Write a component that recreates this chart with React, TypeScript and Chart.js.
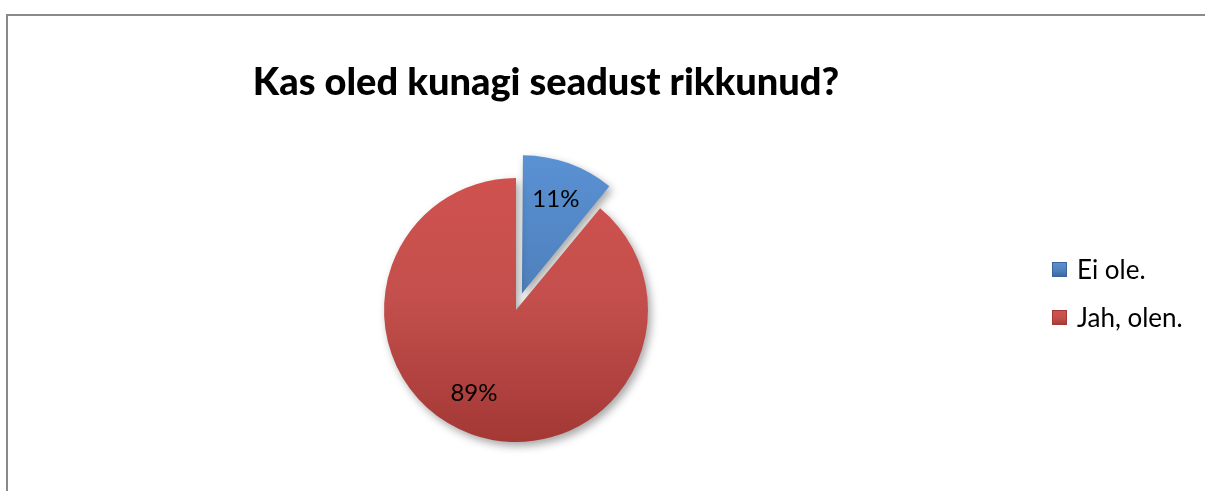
import React, { useEffect, useRef } from "react";
import { Chart, registerables } from "chart.js";

Chart.register(...registerables);

const titleText = "Kas oled kunagi seadust rikkunud?";
const categories = ["Ei ole.", "Jah, olen."];
const shares = [11, 89];
const sliceOffsets = [70, 0];
const topColors = ["#5B93D6", "#D2524F"];
const baseColors = ["#4F81BD", "#C34F4C"];
const bottomColors = ["#3A659C", "#A33835"];

const FONT = "Lato, 'Noto Sans', sans-serif";
const PIE_RADIUS = 132;

function sliceFill(ctx: any) {
  const chart = ctx.chart;
  const i = ctx.dataIndex;
  const ca = chart.chartArea;
  if (!ca) return baseColors[i];
  const cy = (ca.top + ca.bottom) / 2;
  const c = chart.ctx as CanvasRenderingContext2D;
  const g = c.createLinearGradient(0, cy - PIE_RADIUS - 20, 0, cy + PIE_RADIUS);
  g.addColorStop(0, topColors[i]);
  g.addColorStop(0.5, baseColors[i]);
  g.addColorStop(1, bottomColors[i]);
  return g;
}

const shadowPlugin = {
  id: "pieShadow",
  beforeDatasetsDraw(chart: any) {
    const c = chart.ctx;
    c.save();
    c.shadowColor = "rgba(0,0,0,0.35)";
    c.shadowBlur = 9;
    c.shadowOffsetX = 3;
    c.shadowOffsetY = 4;
  },
  afterDatasetsDraw(chart: any) {
    chart.ctx.restore();
  },
};

const labelPlugin = {
  id: "pieLabels",
  afterDatasetsDraw(chart: any) {
    const c = chart.ctx as CanvasRenderingContext2D;
    const meta = chart.getDatasetMeta(0);
    c.save();
    c.font = `24px ${FONT}`;
    c.fillStyle = "#000";
    c.textAlign = "center";
    c.textBaseline = "middle";
    meta.data.forEach((arc: any, i: number) => {
      const mid = (arc.startAngle + arc.endAngle) / 2 + (i === 1 ? 0.12 : 0);
      const circ = arc.endAngle - arc.startAngle;
      const off = (arc.options.offset || 0) / 4;
      const fix = 1 - Math.sin(Math.min(Math.PI, circ));
      const shift = off + off * fix;
      const rr = arc.outerRadius * 0.71;
      const x = arc.x + Math.cos(mid) * (shift + rr);
      const y = arc.y + Math.sin(mid) * (shift + rr);
      c.fillText(`${shares[i]}%`, x, y);
    });
    c.restore();
  },
};

export default function App() {
  const ref = useRef<HTMLCanvasElement>(null);
  useEffect(() => {
    if (!ref.current) return;
    const chart = new Chart(ref.current, {
      type: "pie",
      data: {
        labels: categories,
        datasets: [
          {
            data: shares,
            backgroundColor: sliceFill as any,
            borderWidth: 0,
            offset: sliceOffsets,
          },
        ],
      },
      options: {
        responsive: false,
        animation: false,
        radius: PIE_RADIUS,
        layout: { padding: { left: 0, right: 173, top: 129, bottom: 0 } },
        plugins: {
          legend: { display: false },
          title: { display: false },
          tooltip: { enabled: false },
        },
      } as any,
      plugins: [shadowPlugin, labelPlugin],
    });
    return () => chart.destroy();
  }, []);

  const markerStyle = (i: number): React.CSSProperties => ({
    position: "absolute",
    left: 0,
    top: 0,
    width: 15,
    height: 15,
    background: `linear-gradient(${topColors[i]}, ${baseColors[i]} 55%, ${bottomColors[i]})`,
    boxShadow: `inset 0 0 0 1px ${bottomColors[i]}`,
  });

  return (
    <div style={{ position: "fixed", left: 0, top: 0, width: 1205, height: 491, overflow: "hidden", background: "#fff" }}>
      <div style={{ position: "absolute", left: 6, top: 14, width: 1400, height: 800, border: "2px solid #8a8a8a" }} />
      <canvas ref={ref} width={1205} height={491} style={{ position: "absolute", left: 0, top: 0 }} />
      <div
        style={{
          position: "absolute",
          left: 0,
          width: 1092,
          top: 60,
          textAlign: "center",
          fontFamily: FONT,
          fontWeight: 900,
          fontSize: 38,
          lineHeight: "40px",
          color: "#000",
        }}
      >
        {titleText}
      </div>
      {categories.map((cat, i) => (
        <div
          key={cat}
          style={{
            position: "absolute",
            left: 1052,
            top: 262 + i * 48,
            height: 16,
            fontFamily: FONT,
            fontSize: 26,
            color: "#000",
          }}
        >
          <div style={markerStyle(i)} />
          <div style={{ position: "absolute", left: 25, top: -8, whiteSpace: "nowrap", lineHeight: "30px" }}>{cat}</div>
        </div>
      ))}
    </div>
  );
}
